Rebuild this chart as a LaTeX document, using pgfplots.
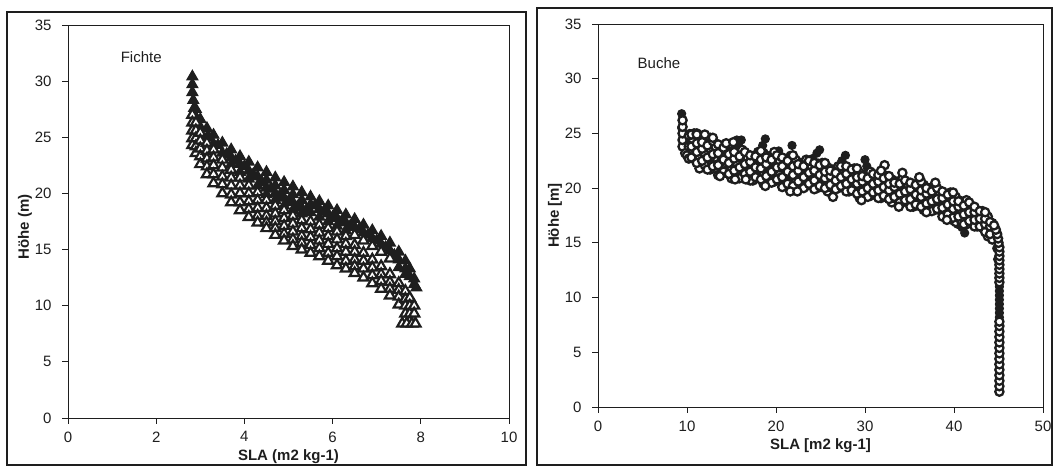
\documentclass[border=0pt]{standalone}
\usepackage{fontspec}
\setmainfont{Liberation Sans}
\usepackage{pgfplots}
\pgfplotsset{compat=1.18}
\definecolor{ink}{HTML}{1E1E1E}
\pgfplotsset{myax/.style={
  scale only axis,
  axis line style={line width=0.9pt, ink},
  tick style={line width=0.9pt, ink},
  tick align=outside, major tick length=6pt,
  xtick pos=bottom, ytick pos=left,
  ticklabel style={font=\fontsize{15}{18}\selectfont, text=ink},
  xticklabel shift=4pt,
  yticklabel shift=7pt,
  label style={font=\fontsize{15}{18}\selectfont\bfseries, text=ink},
  /pgf/number format/assume math mode=true,
  clip=false
}}
\begin{document}
\begin{tikzpicture}[x=1pt,y=1pt]
\useasboundingbox (0,0) rectangle (1053,468);
\draw[line width=1.1pt, ink] (7,3) rectangle (526,456);
\draw[line width=1.1pt, ink] (537,3) rectangle (1052,460);
% ---------------- Fichte ----------------
\begin{axis}[myax, at={(68pt,50pt)}, anchor=south west,
  width=441pt, height=393pt,
  xmin=0, xmax=10, ymin=0, ymax=35,
  xtick={0,2,4,6,8,10}, ytick={0,5,10,15,20,25,30,35},
  xlabel={SLA (m2 kg-1)}, ylabel={Höhe (m)},
  xlabel style={at={(axis description cs:0.5,-0.0995)}, anchor=center},
  ylabel style={at={(axis description cs:-0.0975,0.486)}, anchor=center}]
\addplot[only marks, mark=triangle*, mark size=6.2pt,
  mark options={fill=ink, draw=ink, line width=1.2pt}] coordinates {
(2.82,30.4)(2.82,29.7)(2.82,29.0)(2.84,28.3)(2.86,27.6)
(2.9,27.5)(2.9,26.8)
(3.0,26.6)(3.0,25.9)
(3.15,25.8)(3.15,25.0)
(3.3,25.2)(3.3,24.4)
(3.5,24.5)(3.5,23.6)
(3.7,23.9)(3.7,23.2)(3.7,22.6)
(3.9,23.3)(3.9,22.6)(3.9,21.9)
(4.1,22.8)(4.1,22.0)(4.1,21.3)
(4.3,22.3)(4.3,21.5)(4.3,20.7)
(4.5,21.9)(4.5,21.2)(4.5,20.5)(4.5,19.9)
(4.7,21.4)(4.7,20.7)(4.7,20.0)(4.7,19.4)
(4.9,21.0)(4.9,20.3)(4.9,19.6)(4.9,18.9)
(5.1,20.6)(5.1,19.9)(5.1,19.2)(5.1,18.5)
(5.3,20.1)(5.3,19.4)(5.3,18.7)(5.3,18.2)
(5.5,19.7)(5.5,19.0)(5.5,18.3)
(5.7,19.3)(5.7,18.6)(5.7,17.9)
(5.9,18.9)(5.9,18.2)(5.9,17.5)
(6.1,18.5)(6.1,17.8)(6.1,17.1)
(6.3,18.1)(6.3,17.4)(6.3,16.7)
(6.5,17.7)(6.5,17.0)
(6.7,17.2)(6.7,16.5)
(6.9,16.7)(6.9,16.0)
(7.1,16.2)(7.1,15.5)
(7.3,15.6)(7.3,14.9)
(7.5,14.8)(7.5,14.1)(7.5,13.4)
(7.65,14.0)(7.65,13.3)(7.65,12.8)
(7.75,13.3)(7.75,12.6)
(7.85,12.4)(7.85,11.9)
(7.9,11.6)
(4.0,22.4)(4.2,21.7)(4.4,21.0)(4.6,20.4)(4.8,19.8)(5.0,19.3)(5.2,18.8)(5.4,18.5)
(5.6,18.9)(5.8,18.4)(6.0,17.9)(6.2,17.5)(6.4,17.1)(3.6,23.5)(3.8,22.9)
(3.4,24.3)(3.2,25.0)(6.6,16.8)(6.8,16.3)(7.0,15.8)(7.2,15.2)(7.4,14.5)
};
\addplot[only marks, mark=triangle*, mark size=5.8pt,
  mark options={fill=white, draw=ink, line width=2.2pt}] coordinates {
(2.82,27.0)(2.82,26.3)(2.82,25.6)(2.82,24.9)(2.82,24.3)
(2.9,26.3)(2.9,25.6)(2.9,24.9)(2.9,24.2)(2.9,23.6)
(3.0,25.4)(3.0,24.7)(3.0,24.0)(3.0,23.3)(3.0,22.6)
(3.15,24.5)(3.15,23.8)(3.15,23.1)(3.15,22.4)(3.15,21.7)
(3.3,23.9)(3.3,23.2)(3.3,22.5)(3.3,21.7)(3.3,20.9)
(3.5,23.0)(3.5,22.3)(3.5,21.5)(3.5,20.8)(3.5,20.0)
(3.7,22.1)(3.7,21.4)(3.7,20.7)(3.7,19.9)(3.7,19.2)
(3.9,21.4)(3.9,20.7)(3.9,20.0)(3.9,19.2)(3.9,18.5)
(4.1,20.7)(4.1,20.0)(4.1,19.3)(4.1,18.6)(4.1,17.9)
(4.3,20.1)(4.3,19.4)(4.3,18.7)(4.3,18.0)(4.3,17.4)
(4.5,19.4)(4.5,18.7)(4.5,18.0)(4.5,17.4)(4.5,16.9)
(4.7,18.9)(4.7,18.2)(4.7,17.5)(4.7,16.9)(4.7,16.3)
(4.9,18.5)(4.9,17.8)(4.9,17.1)(4.9,16.4)(4.9,15.8)
(5.1,18.0)(5.1,17.3)(5.1,16.6)(5.1,15.9)(5.1,15.3)
(5.3,17.6)(5.3,16.9)(5.3,16.2)(5.3,15.6)(5.3,15.0)
(5.5,17.5)(5.5,16.8)(5.5,16.1)(5.5,15.4)(5.5,14.7)
(5.7,17.2)(5.7,16.5)(5.7,15.8)(5.7,15.1)(5.7,14.4)
(5.9,16.9)(5.9,16.2)(5.9,15.5)(5.9,14.7)(5.9,14.0)
(6.1,16.6)(6.1,15.9)(6.1,15.1)(6.1,14.4)(6.1,13.6)
(6.3,16.2)(6.3,15.5)(6.3,14.8)(6.3,14.0)(6.3,13.3)
(6.5,16.3)(6.7,15.8)(6.9,15.3)(7.1,14.8)(7.3,14.2)
(6.5,15.4)(6.5,14.8)(6.5,14.1)(6.5,13.5)(6.5,12.9)
(6.7,14.7)(6.7,14.0)(6.7,13.3)(6.7,12.5)
(6.9,14.1)(6.9,13.4)(6.9,12.7)(6.9,12.0)
(7.1,13.5)(7.1,12.8)(7.1,12.2)(7.1,11.5)
(7.3,12.8)(7.3,12.1)(7.3,11.5)(7.3,10.9)
(7.5,12.0)(7.5,11.4)(7.5,10.8)(7.5,10.1)
(7.65,11.3)(7.65,10.6)(7.65,10.0)(7.65,9.3)
(7.75,10.7)(7.75,10.0)(7.75,9.3)(7.75,8.6)
(7.85,10.0)(7.85,9.3)
(7.58,8.4)(7.68,8.4)(7.8,8.4)(7.88,8.4)
};
\node[font=\fontsize{15}{18}\selectfont, text=ink] at (axis cs:1.66,32.1) {Fichte};
\end{axis}
% ---------------- Buche ----------------
\begin{axis}[myax, at={(598pt,61pt)}, anchor=south west,
  width=445pt, height=383pt,
  xmin=0, xmax=50, ymin=0, ymax=35,
  xtick={0,10,20,30,40,50}, ytick={0,5,10,15,20,25,30,35},
  xlabel={SLA [m2 kg-1]}, ylabel={Höhe [m]},
  xlabel style={at={(axis description cs:0.5,-0.1)}, anchor=center},
  ylabel style={at={(axis description cs:-0.0966,0.5)}, anchor=center}]
\addplot[only marks, mark=*, mark size=4.1pt,
  mark options={fill=ink, draw=ink, line width=1pt}] coordinates {
(9.4,26.8)(9.5,26.3)(9.4,25.5)(9.6,24.6)(9.6,23.9)(10.3,25.0)(10.1,24.0)
(15.6,24.4)(16.1,24.4)(15.9,23.7)(18.5,23.9)(18.8,24.5)(20.3,23.4)(20.1,22.8)
(21.8,23.9)(21.6,23.0)(24.1,22.7)(24.6,23.2)(24.9,23.5)(24.7,22.3)(27.4,22.5)
(27.8,23.0)(30.0,22.6)(30.2,22.0)(19.0,22.0)(22.8,21.6)
(33.2,19.5)(33.8,19.2)(34.4,19.0)(35.0,18.7)(34.1,18.9)(35.6,19.3)(36.4,18.5)
(37.3,18.4)(38.2,18.0)(38.9,17.6)(39.4,17.3)(39.9,17.0)(40.4,16.7)(40.9,16.4)
(41.2,15.9)(41.0,17.3)(41.8,17.0)(42.5,16.8)(43.4,16.5)(44.0,16.4)(44.6,15.5)
(44.8,14.5)(44.9,13.5)
(45.1,8.2)(45.1,8.6)(45.1,9.0)(45.1,9.4)(45.1,9.8)(45.1,10.2)(45.1,10.6)(45.1,11.0)
};
\addplot[only marks, mark=*, mark size=4.1pt,
  mark options={fill=white, draw=ink, line width=2.3pt}] coordinates {
(9.5,23.8)(9.5,24.4)(9.5,25.0)(9.5,25.6)(9.5,26.2)(9.8,23.2)(10.0,23.0)
(10.2,22.7)(10.2,23.8)(10.2,24.8)
(10.8,22.7)(10.8,23.8)(10.8,25.0)
(11.4,21.8)(11.4,22.7)(11.4,23.8)(11.4,24.6)
(12.0,22.1)(12.0,23.2)(12.0,24.3)
(12.6,21.7)(12.6,22.8)(12.6,23.6)(12.6,24.6)
(13.2,22.1)(13.2,23.2)(13.2,23.8)
(13.8,21.3)(13.8,22.4)(13.8,23.5)
(14.4,21.6)(14.4,22.7)(14.4,23.9)
(15.0,20.9)(15.0,21.8)(15.0,22.9)(15.0,23.7)
(15.6,21.3)(15.6,22.3)(15.6,23.4)
(16.2,21.1)(16.2,22.0)(16.2,22.7)(16.2,23.5)
(16.8,21.4)(16.8,22.3)(16.8,22.8)
(17.4,20.7)(17.4,21.7)(17.4,22.6)
(18.0,21.1)(18.0,22.1)(18.0,23.3)
(18.6,20.4)(18.6,21.3)(18.6,22.4)(18.6,23.2)
(19.2,20.8)(19.2,21.9)(19.2,22.9)
(19.8,20.6)(19.8,21.7)(19.8,22.4)(19.8,23.3)
(20.4,20.9)(20.4,21.9)(20.4,22.5)
(21.0,20.2)(21.0,21.2)(21.0,22.3)
(21.6,20.5)(21.6,21.6)(21.6,22.8)
(22.2,19.8)(22.2,20.7)(22.2,21.8)(22.2,22.6)
(22.8,20.3)(22.8,21.3)(22.8,22.3)
(23.4,20.2)(23.4,21.1)(23.4,21.8)(23.4,22.6)
(24.0,20.5)(24.0,21.5)(24.0,22.0)
(24.6,20.0)(24.6,20.9)(24.6,21.9)
(25.2,20.3)(25.2,21.2)(25.2,22.3)
(25.8,19.7)(25.8,20.4)(25.8,21.3)(25.8,21.9)
(26.4,20.0)(26.4,20.9)(26.4,21.7)
(27.0,20.0)(27.0,20.8)(27.0,21.3)(27.0,22.0)
(27.6,20.3)(27.6,21.2)(27.6,21.7)
(28.2,19.7)(28.2,20.6)(28.2,21.6)
(28.8,19.8)(28.8,20.7)(28.8,21.8)
(29.4,19.1)(29.4,19.9)(29.4,20.8)(29.4,21.4)
(30.0,19.4)(30.0,20.3)(30.0,21.2)
(30.6,19.3)(30.6,20.2)(30.6,20.8)(30.6,21.5)
(31.2,19.7)(31.2,20.5)(31.2,20.9)
(31.8,19.1)(31.8,20.0)(31.8,20.8)
(32.4,19.4)(32.4,20.2)(32.4,21.1)
(33.0,18.7)(33.0,19.4)(33.0,20.2)(33.0,20.8)
(33.6,19.0)(33.6,19.8)(33.6,20.6)
(34.2,18.7)(34.2,19.6)(34.2,20.2)(34.2,20.9)
(34.8,18.9)(34.8,19.8)(34.8,20.3)
(35.4,18.3)(35.4,19.2)(35.4,20.1)
(36.0,18.6)(36.0,19.5)(36.0,20.5)
(36.6,18.0)(36.6,18.8)(36.6,19.6)(36.6,20.3)
(37.2,18.3)(37.2,19.2)(37.2,20.0)
(37.8,18.0)(37.8,18.8)(37.8,19.5)(37.8,20.2)
(38.4,18.2)(38.4,19.1)(38.4,19.6)
(39.0,17.4)(39.0,18.3)(39.0,19.3)
(39.6,17.6)(39.6,18.5)(39.6,19.6)
(40.2,16.9)(40.2,17.7)(40.2,18.5)(40.2,19.2)
(40.8,17.0)(40.8,17.9)(40.8,18.8)
(41.4,16.7)(41.4,17.6)(41.4,18.2)(41.4,18.9)
(42.0,17.1)(42.0,17.9)(42.0,18.3)
(42.6,16.5)(42.6,17.2)(42.6,17.9)
(43.2,16.4)(43.2,17.1)(43.2,17.9)
(43.8,15.6)(43.8,16.2)(43.8,16.9)(43.8,17.4)
(44.3,15.3)(44.3,16.1)(44.3,16.8)
(10.5,22.8)(10.5,23.8)(10.5,24.9)
(11.1,22.3)(11.1,23.3)(11.1,24.1)(11.1,25.0)
(11.7,22.5)(11.7,23.6)(11.7,24.2)
(12.3,21.7)(12.3,22.8)(12.3,23.9)
(12.9,22.0)(12.9,23.1)(12.9,24.3)
(13.5,21.2)(13.5,22.1)(13.5,23.2)(13.5,24.0)
(14.1,21.5)(14.1,22.6)(14.1,23.7)
(14.7,21.3)(14.7,22.3)(14.7,23.1)(14.7,24.0)
(15.3,21.6)(15.3,22.7)(15.3,23.3)
(15.9,20.9)(15.9,21.9)(15.9,22.9)
(16.5,21.3)(16.5,22.2)(16.5,23.3)
(17.1,20.7)(17.1,21.5)(17.1,22.4)(17.1,23.0)
(17.7,21.0)(17.7,21.9)(17.7,22.9)
(18.3,20.8)(18.3,21.8)(18.3,22.6)(18.3,23.4)
(18.9,21.1)(18.9,22.2)(18.9,22.8)
(19.5,20.5)(19.5,21.5)(19.5,22.6)
(20.1,20.8)(20.1,21.9)(20.1,23.0)
(20.7,20.1)(20.7,21.0)(20.7,22.0)(20.7,22.8)
(21.3,20.4)(21.3,21.5)(21.3,22.5)
(21.9,20.2)(21.9,21.2)(21.9,22.0)(21.9,23.0)
(22.5,20.6)(22.5,21.6)(22.5,22.2)
(23.1,20.0)(23.1,21.0)(23.1,22.0)
(23.7,20.4)(23.7,21.4)(23.7,22.5)
(24.3,19.9)(24.3,20.7)(24.3,21.6)(24.3,22.3)
(24.9,20.2)(24.9,21.2)(24.9,22.1)
(25.5,20.0)(25.5,20.9)(25.5,21.5)(25.5,22.3)
(26.1,20.3)(26.1,21.1)(26.1,21.6)
(26.7,19.9)(26.7,20.7)(26.7,21.4)
(27.3,20.2)(27.3,21.0)(27.3,22.0)
(27.9,19.7)(27.9,20.4)(27.9,21.3)(27.9,22.0)
(28.5,19.8)(28.5,20.8)(28.5,21.7)
(29.1,19.5)(29.1,20.4)(29.1,21.0)(29.1,21.8)
(29.7,19.7)(29.7,20.6)(29.7,21.1)
(30.3,19.2)(30.3,20.0)(30.3,20.9)
(30.9,19.6)(30.9,20.4)(30.9,21.3)
(31.5,19.1)(31.5,19.8)(31.5,20.6)(31.5,21.2)
(32.1,19.3)(32.1,20.1)(32.1,20.9)
(32.7,19.0)(32.7,19.8)(32.7,20.4)(32.7,21.1)
(33.3,19.2)(33.3,20.1)(33.3,20.5)
(33.9,18.7)(33.9,19.5)(33.9,20.4)
(34.5,18.9)(34.5,19.7)(34.5,20.7)
(35.1,18.3)(35.1,19.0)(35.1,19.9)(35.1,20.5)
(35.7,18.5)(35.7,19.4)(35.7,20.3)
(36.3,18.3)(36.3,19.2)(36.3,19.8)(36.3,20.6)
(36.9,18.6)(36.9,19.5)(36.9,20.0)
(37.5,17.9)(37.5,18.8)(37.5,19.7)
(38.1,18.1)(38.1,19.0)(38.1,20.0)
(38.7,17.4)(38.7,18.2)(38.7,19.1)(38.7,19.7)
(39.3,17.6)(39.3,18.5)(39.3,19.4)
(39.9,17.3)(39.9,18.1)(39.9,18.8)(39.9,19.6)
(40.5,17.4)(40.5,18.3)(40.5,18.8)
(41.1,16.7)(41.1,17.6)(41.1,18.4)
(41.7,17.0)(41.7,17.8)(41.7,18.7)
(42.3,16.5)(42.3,17.1)(42.3,17.8)(42.3,18.3)
(42.9,16.5)(42.9,17.2)(42.9,17.9)
(43.5,16.0)(43.5,16.7)(43.5,17.2)(43.5,17.8)
(44.05,15.8)(44.05,16.5)(44.05,16.9)
(11.1,24.9)(12.0,24.9)(12.9,24.6)(14.4,24.1)(15.2,24.2)
(13.7,21.1)(15.4,20.8)(16.6,20.8)(18.8,20.2)(21.6,19.7)(22.4,19.7)(26.4,19.2)
(29.6,18.9)(33.8,18.3)(36.9,17.8)(39.2,17.1)
(32.2,22.1)(31.8,21.6)(34.2,21.4)(36.1,21.0)(37.9,20.5)
(45.1,1.4)(45.1,1.9)(45.1,2.4)(45.1,2.9)(45.1,3.4)(45.1,3.9)(45.1,4.4)
(45.1,4.9)(45.1,5.4)(45.1,5.9)(45.1,6.4)(45.1,6.9)(45.1,7.4)(45.1,7.8)
(45.1,11.4)(45.1,11.8)(45.1,12.2)(45.1,12.6)(45.1,13.0)(45.1,13.4)(45.1,13.8)
(45.1,14.2)(45.1,14.6)(45.0,15.0)(44.95,15.4)(44.85,15.8)(44.7,16.2)(44.5,16.6)
};
\node[font=\fontsize{15}{18}\selectfont, text=ink] at (axis cs:6.85,31.4) {Buche};
\end{axis}
\end{tikzpicture}
\end{document}
